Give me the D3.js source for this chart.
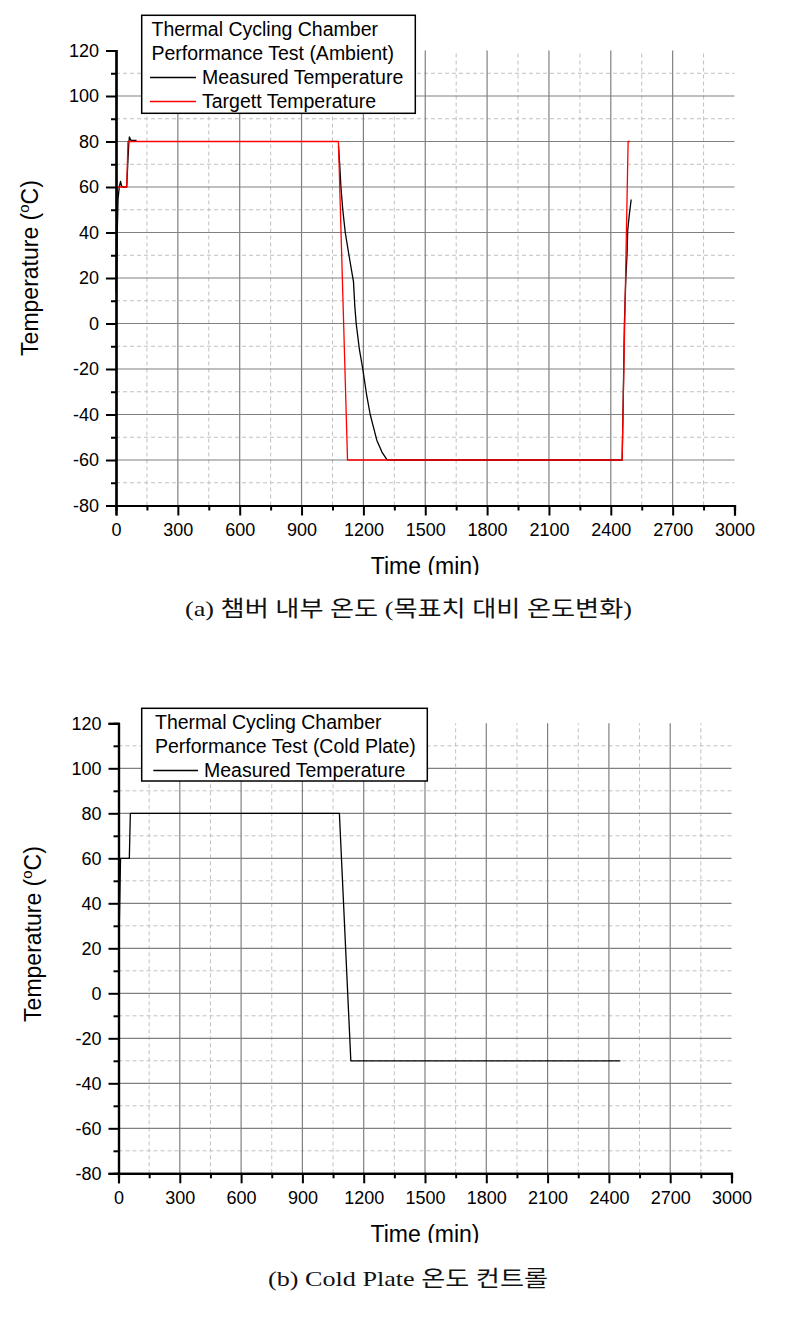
<!DOCTYPE html>
<html><head><meta charset="utf-8">
<script src="https://cdn.jsdelivr.net/npm/d3@7"></script>
<style>body{margin:0;background:#fff} svg{display:block}</style>
</head><body>
<svg id="c" width="804" height="1328"></svg>
<script>
// ---- tick values ----
const xMajorTicks = [0, 300, 600, 900, 1200, 1500, 1800, 2100, 2400, 2700, 3000];
const xMinorTicks = [150, 450, 750, 1050, 1350, 1650, 1950, 2250, 2550, 2850];
const yMajorTicks = [-80, -60, -40, -20, 0, 20, 40, 60, 80, 100, 120];
const yMinorTicks = [-70, -50, -30, -10, 10, 30, 50, 70, 90, 110];

// ---- chart (a): ambient ----
const ambientTargetTime = [0, 6, 52, 58, 1079, 1123, 2455, 2484, 2492];
const ambientTargetTemp = [14, 60, 60, 80, 80, -60, -60, 80, 80];
// measured: two recorded stretches (null = gap in record)
const ambientMeasuredTime = [2, 6, 10, 16, 22, 27, 32, 52, 57, 62, 65, 72, 80, 100, null,
  1079, 1085, 1091, 1100, 1112, 1130, 1152, 1158, 1165, 1180, 1197, 1215, 1233, 1250, 1265, 1290, 1314, 1330,
  2455, 2460, 2466, 2473, 2479, 2482, 2490, 2499];
const ambientMeasuredTemp = [15, 40, 55, 60, 62.5, 60.5, 60, 60, 70, 79, 82, 80.5, 80.5, 80.5, null,
  78, 70, 60, 50, 40, 30, 18.3, 8, 0, -11, -20, -31, -40, -46, -51.3, -56.5, -59.8, -60,
  -60, -35, 0, 20, 31, 41, 48, 54.5];

// ---- chart (b): cold plate ----
const coldMeasuredTime = [2, 6, 10, 53, 58, 1081, 1137, 2456];
const coldMeasuredTemp = [22, 40, 60, 60, 80, 80, -30, -30];

const svg = d3.select('#c');
const FONT = 'Arial, "Liberation Sans", sans-serif';

function drawChart(cfg) {
  const g = svg.append('g');
  const x = d3.scaleLinear().domain([0, 3000]).range([cfg.left, cfg.right]);
  const y = d3.scaleLinear().domain([-80, 120]).range([cfg.bottom, cfg.top]);

  // grid
  const grid = g.append('g');
  grid.selectAll('.vmin').data(xMinorTicks).join('line')
    .attr('x1', d => x(d)).attr('x2', d => x(d)).attr('y1', cfg.bottom).attr('y2', cfg.top)
    .attr('stroke', '#c0c0c0').attr('stroke-width', 1).attr('stroke-dasharray', '4,3');
  grid.selectAll('.hmin').data(yMinorTicks).join('line')
    .attr('y1', d => y(d)).attr('y2', d => y(d)).attr('x1', cfg.left).attr('x2', cfg.right)
    .attr('stroke', '#c0c0c0').attr('stroke-width', 1).attr('stroke-dasharray', '4,3');
  grid.selectAll('.vmaj').data(xMajorTicks.filter(d => d > 0 && d < 3000)).join('line')
    .attr('x1', d => x(d)).attr('x2', d => x(d)).attr('y1', cfg.bottom).attr('y2', cfg.top)
    .attr('stroke', '#808080').attr('stroke-width', 1.2);
  grid.selectAll('.hmaj').data(yMajorTicks.filter(d => d > -80 && d < 120)).join('line')
    .attr('y1', d => y(d)).attr('y2', d => y(d)).attr('x1', cfg.left).attr('x2', cfg.right)
    .attr('stroke', '#808080').attr('stroke-width', 1.2);

  // lines
  const line = d3.line().defined(d => d[0] != null && d[1] != null).x(d => x(d[0])).y(d => y(d[1]));
  cfg.series.forEach(s => {
    const pts = s.time.map((t, i) => [t, s.temp[i]]);
    g.append('path').datum(pts).attr('d', line)
      .attr('fill', 'none').attr('stroke', s.color).attr('stroke-width', 1.3)
      .attr('stroke-linejoin', 'round');
  });

  // axes
  const xAxisMinor = d3.axisBottom(x).tickValues(xMinorTicks).tickSize(5).tickFormat('');
  const xAxis = d3.axisBottom(x).tickValues(xMajorTicks).tickSize(10).tickPadding(8).tickFormat(d => String(d));
  const yAxisMinor = d3.axisLeft(y).tickValues(yMinorTicks).tickSize(5).tickFormat('');
  const yAxis = d3.axisLeft(y).tickValues(yMajorTicks).tickSize(10).tickPadding(7).tickFormat(d => String(d));

  const styleAxis = sel => {
    sel.selectAll('.domain').attr('stroke', '#000').attr('stroke-width', 2.2);
    sel.selectAll('.tick line').attr('stroke', '#000').attr('stroke-width', 2);
    sel.selectAll('text').attr('font-family', FONT).attr('font-size', 18).attr('fill', '#000');
  };
  g.append('g').attr('transform', `translate(0,${cfg.bottom})`).call(xAxisMinor).call(styleAxis);
  g.append('g').attr('transform', `translate(0,${cfg.bottom})`).call(xAxis).call(styleAxis);
  g.append('g').attr('transform', `translate(${cfg.left},0)`).call(yAxisMinor).call(styleAxis);
  g.append('g').attr('transform', `translate(${cfg.left},0)`).call(yAxis).call(styleAxis);

  // axis titles
  const yt = g.append('text').attr('transform', `translate(${cfg.yTitleX},${cfg.yTitleY}) rotate(-90)`)
    .attr('text-anchor', 'middle').attr('font-family', FONT).attr('font-size', 23).attr('fill', '#000');
  yt.append('tspan').text('Temperature (');
  yt.append('tspan').attr('font-size', 15).attr('dy', -9).text('o');
  yt.append('tspan').attr('dy', 9).text('C)');

  const clipId = 'clip' + cfg.id;
  svg.append('clipPath').attr('id', clipId).append('rect')
    .attr('x', 0).attr('y', 0).attr('width', 804).attr('height', cfg.xTitleClip);
  g.append('text').attr('x', (cfg.left + cfg.right) / 2).attr('y', cfg.xTitleY)
    .attr('clip-path', `url(#${clipId})`)
    .attr('text-anchor', 'middle').attr('font-family', FONT).attr('font-size', 23).attr('fill', '#000')
    .text('Time (min)');

  // legend
  const L = cfg.legend;
  g.append('rect').attr('x', L.x).attr('y', L.y).attr('width', L.w).attr('height', L.h)
    .attr('fill', '#fff').attr('stroke', '#000').attr('stroke-width', 1.5);
  L.title.forEach((t, i) => {
    g.append('text').attr('x', L.textX).attr('y', L.firstBase + i * L.step)
      .attr('font-family', FONT).attr('font-size', 19.5).attr('fill', '#000').text(t);
  });
  cfg.series.forEach((s, i) => {
    const base = L.firstBase + (L.title.length + i) * L.step;
    g.append('line').attr('x1', L.lineX1).attr('x2', L.lineX2).attr('y1', base - 6).attr('y2', base - 6)
      .attr('stroke', s.color).attr('stroke-width', 1.3);
    g.append('text').attr('x', L.lineX2 + 6).attr('y', base)
      .attr('font-family', FONT).attr('font-size', 19.5).attr('fill', '#000').text(s.name);
  });

  // caption
  g.append('text').attr('x', cfg.capX).attr('y', cfg.capY)
    .attr('font-family', '"Liberation Serif", "Noto Sans CJK KR", serif')
    .attr('font-size', 22).attr('fill', '#111')
    .attr('textLength', cfg.capW).attr('lengthAdjust', 'spacingAndGlyphs')
    .text(cfg.caption);
}

drawChart({
  id: 'a', left: 116, right: 734.5, top: 50.5, bottom: 505.5,
  yTitleX: 38, yTitleY: 268, xTitleY: 574, xTitleClip: 575,
  series: [
    { name: 'Measured Temperature', color: '#000', time: ambientMeasuredTime, temp: ambientMeasuredTemp },
    { name: 'Targett Temperature', color: '#ff0000', time: ambientTargetTime, temp: ambientTargetTemp }
  ],
  legend: { x: 141.7, y: 15.3, w: 273.6, h: 98, textX: 151.5, firstBase: 35.5, step: 24,
            lineX1: 150, lineX2: 196, title: ['Thermal Cycling Chamber', 'Performance Test (Ambient)'] },
  caption: '(a) 챔버 내부 온도 (목표치 대비 온도변화)', capX: 185, capY: 616, capW: 447
});

drawChart({
  id: 'b', left: 118.5, right: 731.5, top: 723.3, bottom: 1173.3,
  yTitleX: 41, yTitleY: 934, xTitleY: 1242, xTitleClip: 1243,
  series: [
    { name: 'Measured Temperature', color: '#000', time: coldMeasuredTime, temp: coldMeasuredTemp }
  ],
  legend: { x: 141.7, y: 708.3, w: 285.6, h: 72.7, textX: 155, firstBase: 728.5, step: 24,
            lineX1: 153.3, lineX2: 198, title: ['Thermal Cycling Chamber', 'Performance Test (Cold Plate)'] },
  caption: '(b) Cold Plate 온도 컨트롤', capX: 268, capY: 1286, capW: 280
});
</script>
</body></html>
